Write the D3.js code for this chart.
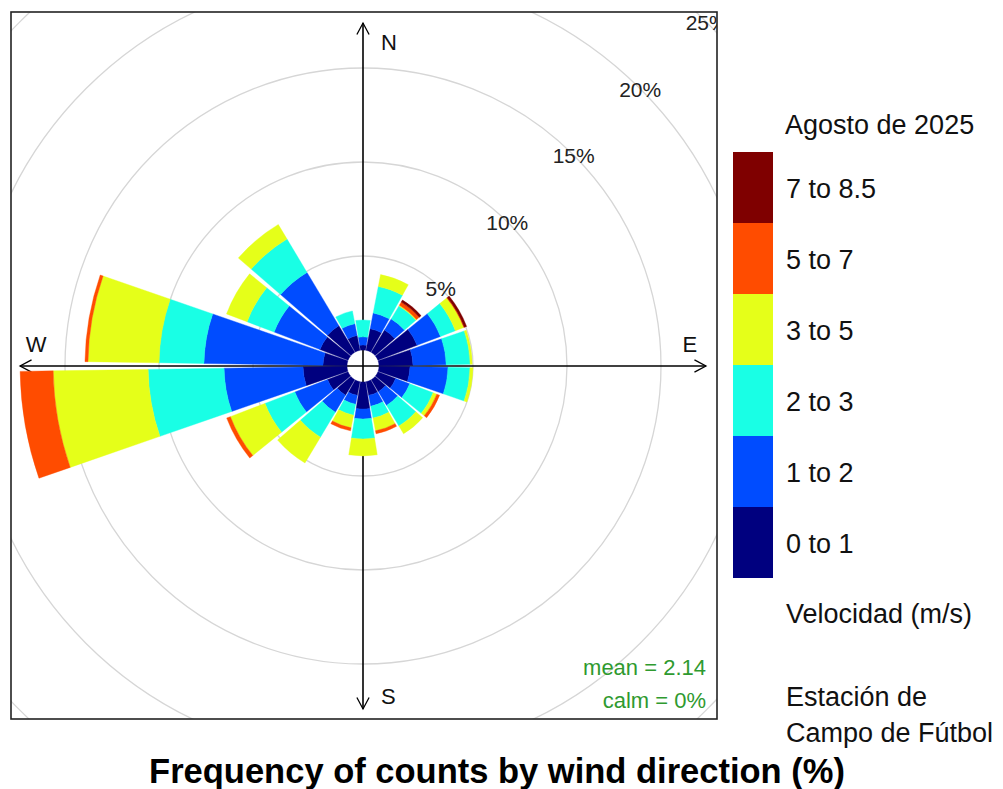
<!DOCTYPE html>
<html>
<head>
<meta charset="utf-8">
<script src="https://cdn.jsdelivr.net/npm/d3@7"></script>
<style>
  body { margin: 0; background: #fff; }
  svg { font-family: "Liberation Sans", Arial, sans-serif; }
</style>
</head>
<body>
<div class="chart"></div>
<script>
const width = 1003;
const height = 789;

// wind direction sectors (degrees, centre of each 20° bin)
const directions = [0, 20, 40, 60, 80, 100, 120, 140, 160, 180, 200, 220, 240, 260, 280, 300, 320, 340];

const speedBins = ["0 to 1", "1 to 2", "2 to 3", "3 to 5", "5 to 7", "7 to 8.5"];
const binColors = ["#00007F", "#004CFF", "#19FFE5", "#E5FF19", "#FF4C00", "#7F0000"];

// frequency (%) of each speed bin per direction
const freq0to1 = [0.27, 1.17, 1.38, 2.23, 1.81, 1.65, 1.01, 0.74, 0.74, 1.44, 0.74, 0.96, 1.17, 2.34, 1.28, 1.60, 1.65, 0.80];
const freq1to2 = [0.43, 0.85, 0.69, 1.33, 1.76, 2.02, 0.80, 0.85, 0.59, 0.53, 0.48, 1.06, 1.86, 4.20, 6.33, 2.61, 3.30, 0.64];
const freq2to3 = [0.90, 1.44, 0.80, 0.85, 1.28, 1.17, 1.33, 1.28, 0.64, 1.06, 0.59, 1.54, 1.70, 4.04, 2.39, 1.54, 2.07, 0.69];
const freq3to5 = [0.00, 0.64, 0.05, 0.48, 0.11, 0.16, 0.21, 0.48, 0.69, 0.90, 0.69, 1.60, 1.97, 5.05, 3.78, 1.17, 0.90, 0.00];
const freq5to7 = [0.00, 0.00, 0.19, 0.03, 0.00, 0.00, 0.16, 0.00, 0.16, 0.00, 0.16, 0.00, 0.21, 1.76, 0.16, 0.00, 0.00, 0.00];
const freq7to85 = [0.00, 0.00, 0.13, 0.13, 0.00, 0.00, 0.00, 0.00, 0.00, 0.00, 0.00, 0.00, 0.00, 0.00, 0.00, 0.00, 0.00, 0.00];

const gridValues = [5, 10, 15, 20, 25];
const compass = [
  { label: "N", angle: 0 },
  { label: "E", angle: 90 },
  { label: "S", angle: 180 },
  { label: "W", angle: 270 }
];

const legendTitle = "Agosto de 2025";
const legendUnits = "Velocidad (m/s)";
const stationLines = ["Estación de", "Campo de Fútbol"];
const meanText = "mean = 2.14";
const calmText = "calm = 0%";
const mainTitle = "Frequency of counts by wind direction (%)";

const binSeries = [freq0to1, freq1to2, freq2to3, freq3to5, freq5to7, freq7to85];
const rows = directions.map((dir, i) => {
  const row = { dir: dir };
  speedBins.forEach((b, j) => (row[b] = binSeries[j][i]));
  return row;
});
const stacked = d3.stack().keys(speedBins)(rows);
const maxTotal = d3.max(rows, (d) => d3.sum(speedBins, (b) => d[b]));

// panel geometry
const panel = { x: 11, y: 12, w: 706, h: 707 };
const cx = 363;
const cy = 366;

const r = d3.scaleLinear().domain([0, 25]).range([16, 16 + 25 * 18.8]);
const rad = (deg) => (deg * Math.PI) / 180;
const halfWidth = 9.1;

const svg = d3.select(".chart")
  .append("svg")
  .attr("width", width)
  .attr("height", height);

svg.append("clipPath")
  .attr("id", "panel-clip")
  .append("rect")
  .attr("x", panel.x)
  .attr("y", panel.y)
  .attr("width", panel.w)
  .attr("height", panel.h);

const plot = svg.append("g").attr("clip-path", "url(#panel-clip)");
const rose = plot.append("g").attr("transform", `translate(${cx},${cy})`);

// grid circles
rose.selectAll("circle.grid")
  .data(gridValues)
  .enter()
  .append("circle")
  .attr("class", "grid")
  .attr("r", (d) => r(d))
  .attr("fill", "none")
  .attr("stroke", "#d6d6d6")
  .attr("stroke-width", 1.3);

// axes with arrows
const axisLen = r(maxTotal);
const arrowLen = 13;
compass.forEach((c) => {
  const ux = Math.sin(rad(c.angle));
  const uy = -Math.cos(rad(c.angle));
  const tx = ux * axisLen;
  const ty = uy * axisLen;
  rose.append("line")
    .attr("x1", 0).attr("y1", 0)
    .attr("x2", tx).attr("y2", ty)
    .attr("stroke", "#000")
    .attr("stroke-width", 1.6);
  const barbs = [-28, 28].map((a) => {
    const ang = rad(c.angle + 180 + a);
    return [tx + Math.sin(ang) * arrowLen, ty - Math.cos(ang) * arrowLen];
  });
  rose.append("path")
    .attr("d", `M${barbs[0][0]},${barbs[0][1]}L${tx},${ty}L${barbs[1][0]},${barbs[1][1]}`)
    .attr("fill", "none")
    .attr("stroke", "#000")
    .attr("stroke-width", 1.3);
});

// bars
const arc = d3.arc()
  .innerRadius((d) => r(d[0]))
  .outerRadius((d) => r(d[1]))
  .startAngle((d) => rad(d.data.dir - halfWidth))
  .endAngle((d) => rad(d.data.dir + halfWidth));

rose.selectAll("g.bin")
  .data(stacked)
  .enter()
  .append("g")
  .attr("class", "bin")
  .attr("fill", (s, i) => binColors[i])
  .attr("stroke", (s, i) => binColors[i])
  .attr("stroke-width", 0.4)
  .selectAll("path")
  .data((s) => s.filter((d) => d[1] - d[0] > 0))
  .enter()
  .append("path")
  .attr("d", arc);

// grid labels along 45°
rose.selectAll("text.grid-label")
  .data(gridValues)
  .enter()
  .append("text")
  .attr("class", "grid-label")
  .attr("x", (d) => r(d) * Math.SQRT1_2)
  .attr("y", (d) => -r(d) * Math.SQRT1_2 + 8)
  .attr("text-anchor", "middle")
  .attr("font-size", 21)
  .attr("fill", "#222")
  .text((d) => d + "%");

// compass labels
const compassPos = {
  N: { x: 18, y: -axisLen + 27, anchor: "start" },
  E: { x: axisLen - 16, y: -14, anchor: "middle" },
  S: { x: 18, y: axisLen - 5, anchor: "start" },
  W: { x: -axisLen + 16, y: -14, anchor: "middle" }
};
rose.selectAll("text.compass")
  .data(compass)
  .enter()
  .append("text")
  .attr("class", "compass")
  .attr("x", (d) => compassPos[d.label].x)
  .attr("y", (d) => compassPos[d.label].y)
  .attr("text-anchor", (d) => compassPos[d.label].anchor)
  .attr("font-size", 22)
  .attr("fill", "#111")
  .text((d) => d.label);

// mean / calm
plot.append("text")
  .attr("x", 706).attr("y", 675)
  .attr("text-anchor", "end")
  .attr("font-size", 22)
  .attr("fill", "#2f9a2f")
  .text(meanText);
plot.append("text")
  .attr("x", 706).attr("y", 708)
  .attr("text-anchor", "end")
  .attr("font-size", 22)
  .attr("fill", "#2f9a2f")
  .text(calmText);

// panel border
svg.append("rect")
  .attr("x", panel.x)
  .attr("y", panel.y)
  .attr("width", panel.w)
  .attr("height", panel.h)
  .attr("fill", "none")
  .attr("stroke", "#222")
  .attr("stroke-width", 1.6);

// legend
const legendY = d3.scaleBand()
  .domain(speedBins.slice().reverse())
  .range([152, 578]);

const legend = svg.append("g").attr("id", "legend");

legend.append("text")
  .attr("x", 785).attr("y", 134)
  .attr("font-size", 27)
  .attr("fill", "#111")
  .text(legendTitle);

legend.selectAll("rect")
  .data(speedBins)
  .enter()
  .append("rect")
  .attr("x", 733)
  .attr("y", (d) => legendY(d))
  .attr("width", 40)
  .attr("height", legendY.bandwidth())
  .attr("fill", (d, i) => binColors[i]);

legend.selectAll("text.bin-label")
  .data(speedBins)
  .enter()
  .append("text")
  .attr("class", "bin-label")
  .attr("x", 786)
  .attr("y", (d) => legendY(d) + legendY.bandwidth() / 2 + 10)
  .attr("font-size", 27)
  .attr("fill", "#111")
  .text((d) => d);

legend.append("text")
  .attr("x", 786).attr("y", 623)
  .attr("font-size", 27)
  .attr("fill", "#111")
  .text(legendUnits);

legend.selectAll("text.station")
  .data(stationLines)
  .enter()
  .append("text")
  .attr("class", "station")
  .attr("x", 786)
  .attr("y", (d, i) => 706 + i * 36)
  .attr("font-size", 27)
  .attr("fill", "#111")
  .text((d) => d);

// title
svg.append("text")
  .attr("x", 497).attr("y", 783)
  .attr("text-anchor", "middle")
  .attr("font-size", 34.5)
  .attr("font-weight", "bold")
  .attr("fill", "#000")
  .text(mainTitle);
</script>
</body>
</html>
